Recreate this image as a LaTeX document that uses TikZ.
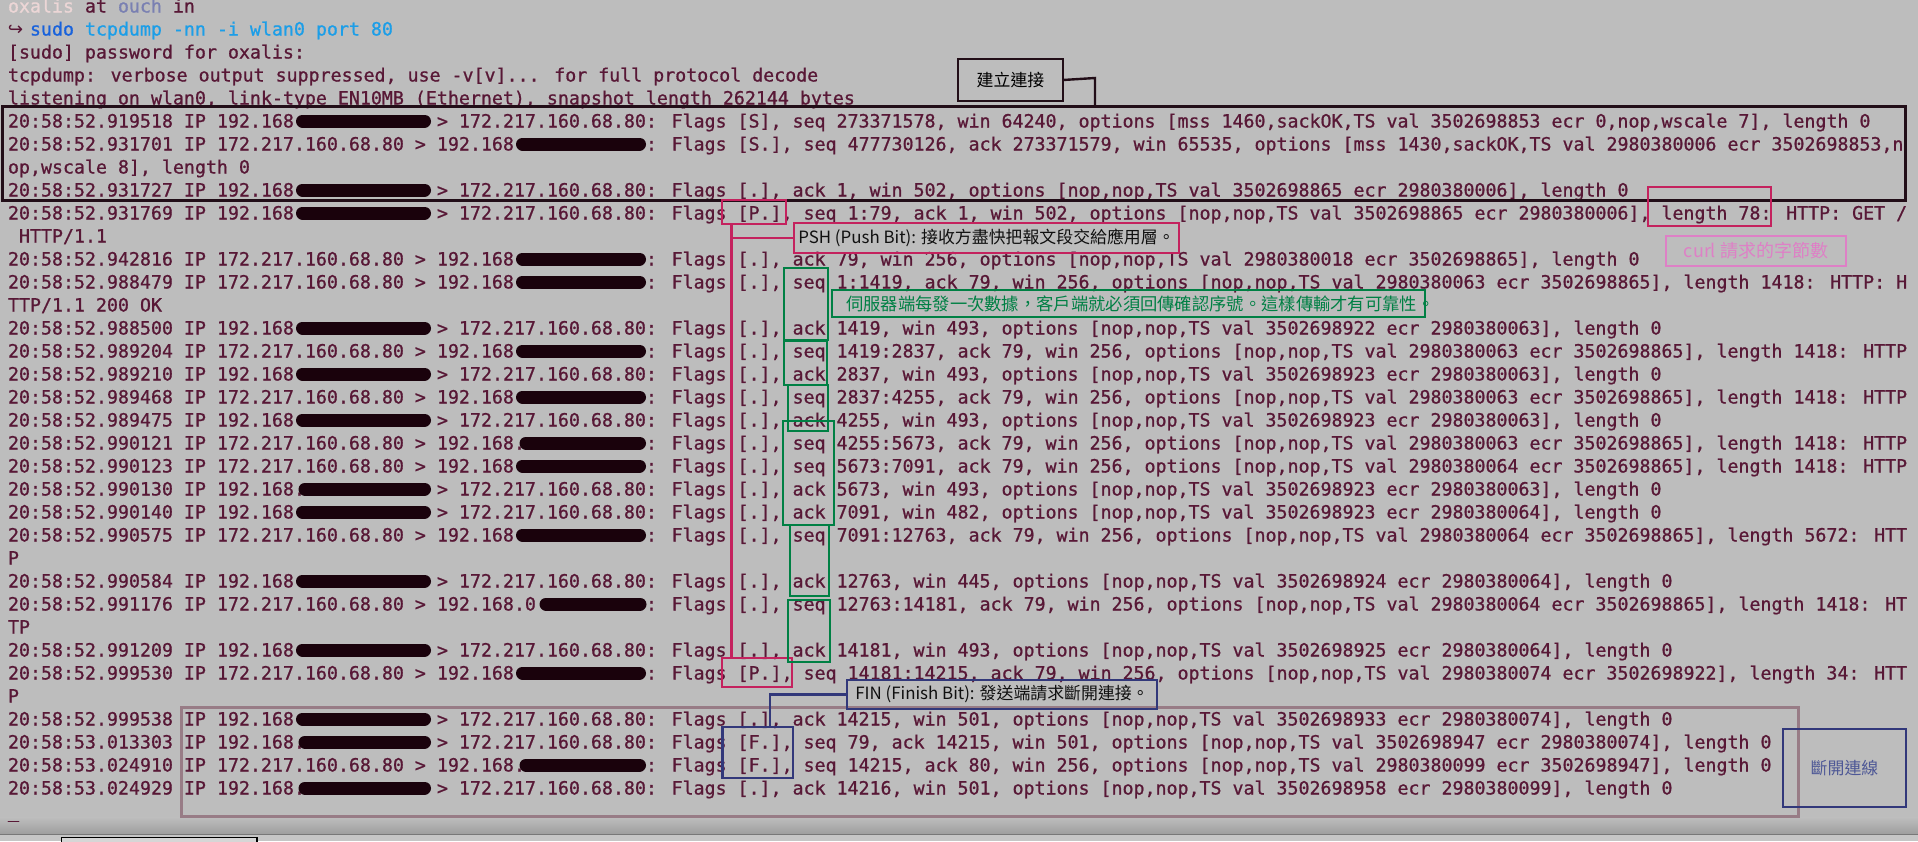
\documentclass[tikz,border=0pt]{standalone}
\usepackage{fontspec}
\newfontfamily\monof{DejaVu Sans Mono}[FakeBold=0.9]
\newfontfamily\cjkf{Noto Sans CJK TC}
\newfontfamily\symf{DejaVu Sans}
\usetikzlibrary{calc}
\definecolor{bgc}{RGB}{189,189,189}
\definecolor{term}{RGB}{88,24,54}
\definecolor{oxp}{RGB}{236,214,214}
\definecolor{ouchc}{RGB}{122,128,178}
\definecolor{sudoc}{RGB}{24,98,220}
\definecolor{cmdc}{RGB}{28,158,232}
\definecolor{blobc}{RGB}{26,2,12}
\definecolor{boxk}{RGB}{34,14,24}
\definecolor{crim}{RGB}{196,34,94}
\definecolor{pinkc}{RGB}{222,128,198}
\definecolor{grn}{RGB}{0,128,68}
\definecolor{navy}{RGB}{50,56,122}
\definecolor{navyt}{RGB}{78,88,150}
\definecolor{mauve}{RGB}{152,124,134}
\definecolor{bandc}{RGB}{158,158,158}
\definecolor{taskc}{RGB}{198,198,198}
\newcommand\termfont{\monof\fontsize{18.27pt}{23pt}\selectfont}
\newcommand\notefont{\cjkf\fontsize{16.9pt}{20pt}\selectfont}
\newcommand\rd[1]{\hspace*{\dimexpr #1pt*11\relax}}
\newcommand\trow[3]{\node[trow] (r#1) at ({8+11*#2},{12.5+23*#1}) {#3};}
\newcommand\cblob[3]{\draw[blob] (#2,{6+23*#1}) -- (#3,{6+23*#1});}
\tikzset{
  trow/.style={anchor=base west, inner sep=0pt, outer sep=0pt, text=term, font=\termfont},
  blob/.style={draw=blobc, line width=13pt, line cap=round},
  bx/.style={draw, rectangle, inner sep=0pt, outer sep=0pt},
  kbox/.style={bx, draw=boxk, line width=2.6pt},
  cbox/.style={bx, draw=crim, line width=2.4pt},
  gbox/.style={bx, draw=grn, line width=2.4pt},
  nbox/.style={bx, draw=navy, line width=2.4pt},
  note/.style={font=\notefont, inner sep=0pt, text={rgb,255:red,16;green,16;blue,16}},
}
\begin{document}
\begin{tikzpicture}[x=1pt,y=-1pt]
\useasboundingbox (0,0) rectangle (1918,841);
\fill[bgc] (0,0) rectangle (1918,841);
% taskbar
\shade[top color=bgc, bottom color=bandc] (0,817.5) rectangle (1918,834);
\fill[taskc] (0,834) rectangle (1918,841);
\draw[line width=1pt, color={rgb,255:red,120;green,120;blue,120}] (0,834.5) -- (1918,834.5);
\draw[line width=1.4pt, black, fill={rgb,255:red,214;green,214;blue,214}] (61.5,837.5) rectangle (257,843);

% terminal text
\node[trow] (r0) at (8,12.5) {\textcolor{oxp}{oxalis} at \textcolor{ouchc}{ouch} in};
\node[trow, font=\symf\fontsize{18.27pt}{23pt}\selectfont] (r1a) at (8,35.5) {↪};
\node[trow] (r1) at (30,35.5) {\textcolor{sudoc}{sudo} \textcolor{cmdc}{tcpdump -nn -i wlan0 port 80}};
\trow{2}{0}{[sudo] password for oxalis:}
\trow{3}{0}{tcpdump: verbose output suppressed, use -v[v]... for full protocol decode}
\trow{4}{0}{listening on wlan0, link-type EN10MB (Ethernet), snapshot length 262144 bytes}
\trow{5}{0}{20:58:52.919518 IP 192.168\rd{12} > 172.217.160.68.80: Flags [S], seq 273371578, win 64240, options [mss 1460,sackOK,TS val 3502698853 ecr 0,nop,wscale 7], length 0}
\trow{6}{0}{20:58:52.931701 IP 172.217.160.68.80 > 192.168\rd{12}: Flags [S.], seq 477730126, ack 273371579, win 65535, options [mss 1430,sackOK,TS val 2980380006 ecr 3502698853,n}
\trow{7}{0}{op,wscale 8], length 0}
\trow{8}{0}{20:58:52.931727 IP 192.168\rd{12} > 172.217.160.68.80: Flags [.], ack 1, win 502, options [nop,nop,TS val 3502698865 ecr 2980380006], length 0}
\trow{9}{0}{20:58:52.931769 IP 192.168\rd{12} > 172.217.160.68.80: Flags [P.], seq 1:79, ack 1, win 502, options [nop,nop,TS val 3502698865 ecr 2980380006], length 78: HTTP: GET /}
\trow{10}{1}{HTTP/1.1}
\trow{11}{0}{20:58:52.942816 IP 172.217.160.68.80 > 192.168\rd{12}: Flags [.], ack 79, win 256, options [nop,nop,TS val 2980380018 ecr 3502698865], length 0}
\trow{12}{0}{20:58:52.988479 IP 172.217.160.68.80 > 192.168\rd{12}: Flags [.], seq 1:1419, ack 79, win 256, options [nop,nop,TS val 2980380063 ecr 3502698865], length 1418: HTTP: H}
\trow{13}{0}{TTP/1.1 200 OK}
\trow{14}{0}{20:58:52.988500 IP 192.168\rd{12} > 172.217.160.68.80: Flags [.], ack 1419, win 493, options [nop,nop,TS val 3502698922 ecr 2980380063], length 0}
\trow{15}{0}{20:58:52.989204 IP 172.217.160.68.80 > 192.168\rd{12}: Flags [.], seq 1419:2837, ack 79, win 256, options [nop,nop,TS val 2980380063 ecr 3502698865], length 1418: HTTP}
\trow{16}{0}{20:58:52.989210 IP 192.168\rd{12} > 172.217.160.68.80: Flags [.], ack 2837, win 493, options [nop,nop,TS val 3502698923 ecr 2980380063], length 0}
\trow{17}{0}{20:58:52.989468 IP 172.217.160.68.80 > 192.168\rd{12}: Flags [.], seq 2837:4255, ack 79, win 256, options [nop,nop,TS val 2980380063 ecr 3502698865], length 1418: HTTP}
\trow{18}{0}{20:58:52.989475 IP 192.168\rd{12} > 172.217.160.68.80: Flags [.], ack 4255, win 493, options [nop,nop,TS val 3502698923 ecr 2980380063], length 0}
\trow{19}{0}{20:58:52.990121 IP 172.217.160.68.80 > 192.168.\rd{11}: Flags [.], seq 4255:5673, ack 79, win 256, options [nop,nop,TS val 2980380063 ecr 3502698865], length 1418: HTTP}
\trow{20}{0}{20:58:52.990123 IP 172.217.160.68.80 > 192.168\rd{12}: Flags [.], seq 5673:7091, ack 79, win 256, options [nop,nop,TS val 2980380064 ecr 3502698865], length 1418: HTTP}
\trow{21}{0}{20:58:52.990130 IP 192.168.\rd{11} > 172.217.160.68.80: Flags [.], ack 5673, win 493, options [nop,nop,TS val 3502698923 ecr 2980380063], length 0}
\trow{22}{0}{20:58:52.990140 IP 192.168\rd{12} > 172.217.160.68.80: Flags [.], ack 7091, win 482, options [nop,nop,TS val 3502698923 ecr 2980380064], length 0}
\trow{23}{0}{20:58:52.990575 IP 172.217.160.68.80 > 192.168\rd{12}: Flags [.], seq 7091:12763, ack 79, win 256, options [nop,nop,TS val 2980380064 ecr 3502698865], length 5672: HTT}
\trow{24}{0}{P}
\trow{25}{0}{20:58:52.990584 IP 192.168\rd{12} > 172.217.160.68.80: Flags [.], ack 12763, win 445, options [nop,nop,TS val 3502698924 ecr 2980380064], length 0}
\trow{26}{0}{20:58:52.991176 IP 172.217.160.68.80 > 192.168.0\rd{10}: Flags [.], seq 12763:14181, ack 79, win 256, options [nop,nop,TS val 2980380064 ecr 3502698865], length 1418: HT}
\trow{27}{0}{TP}
\trow{28}{0}{20:58:52.991209 IP 192.168\rd{12} > 172.217.160.68.80: Flags [.], ack 14181, win 493, options [nop,nop,TS val 3502698925 ecr 2980380064], length 0}
\trow{29}{0}{20:58:52.999530 IP 172.217.160.68.80 > 192.168\rd{12}: Flags [P.], seq 14181:14215, ack 79, win 256, options [nop,nop,TS val 2980380074 ecr 3502698922], length 34: HTT}
\trow{30}{0}{P}
\trow{31}{0}{20:58:52.999538 IP 192.168\rd{12} > 172.217.160.68.80: Flags [.], ack 14215, win 501, options [nop,nop,TS val 3502698933 ecr 2980380074], length 0}
\trow{32}{0}{20:58:53.013303 IP 192.168.\rd{11} > 172.217.160.68.80: Flags [F.], seq 79, ack 14215, win 501, options [nop,nop,TS val 3502698947 ecr 2980380074], length 0}
\trow{33}{0}{20:58:53.024910 IP 172.217.160.68.80 > 192.168.\rd{11}: Flags [F.], seq 14215, ack 80, win 256, options [nop,nop,TS val 2980380099 ecr 3502698947], length 0}
\trow{34}{0}{20:58:53.024929 IP 192.168.\rd{11} > 172.217.160.68.80: Flags [.], ack 14216, win 501, options [nop,nop,TS val 3502698958 ecr 2980380099], length 0}
\trow{35}{0}{\_}

% redaction marks
\foreach \r in {5,8,9,14,16,18,22,25,28,31} {\cblob{\r}{302.5}{424.5}}
\foreach \r in {21,32,34} {\cblob{\r}{305}{424.5}}
\foreach \r in {6,11,12,15,17,20,23,29} {\cblob{\r}{522.5}{639.5}}
\foreach \r in {19,33} {\cblob{\r}{526}{639.5}}
\cblob{26}{546}{640}

% handshake box
\node[kbox, line width=3pt, minimum width=1903pt, minimum height=93.5pt] (est) at (953.5,153.25) {};
\node[kbox, minimum width=105pt, minimum height=42pt, font=\notefont] (jl) at (1010.5,80) {建立連接};
\coordinate (jlk) at (1095,78);
\draw[draw=boxk, line width=2.4pt] (jl.east) -- (jlk) -- (jlk |- est.north);

% teardown box
\node[bx, draw=mauve, line width=3pt, minimum width=1617pt, minimum height=109pt] (dk) at (989.5,761.5) {};
\node[nbox, minimum width=123pt, minimum height=78pt, font=\notefont, text=navyt] (dkl) at (1844.5,768) {斷開連線};

% length 78 and curl note
\node[cbox, minimum width=123pt, minimum height=39pt] (len) at (1709.5,206.5) {};
\node[bx, draw=pinkc, line width=2pt, minimum width=180pt, minimum height=30pt, font=\cjkf\fontsize{18pt}{20pt}\selectfont, text=pinkc] (curl) at (1756,251) {curl 請求的字節數};

% PSH
\node[cbox, minimum width=64pt, minimum height=24pt] (ptop) at (754,212) {};
\node[cbox, minimum width=70pt, minimum height=29pt] (pbot) at (757,672.5) {};
\node[cbox, minimum width=385pt, minimum height=30pt, note] (psh) at (986.5,238) {PSH (Push Bit): 接收方盡快把報文段交給應用層。};
\coordinate (vtop) at ([xshift=9.5pt]ptop.south west);
\coordinate (vbot) at ([xshift=9.5pt]pbot.north west);
\draw[draw=crim, line width=2.4pt] (vtop) -- (vbot);
\draw[draw=crim, line width=2.4pt] (psh.west) -- (vtop |- psh.west);

% seq / ack boxes
\node[gbox, minimum width=44pt, minimum height=72pt] (ga) at (806,304) {};
\node[gbox, minimum width=43pt, minimum height=44pt] (gb) at (805.5,363) {};
\node[gbox, minimum width=40pt, minimum height=46pt] (gc) at (808,408) {};
\node[gbox, minimum width=51pt, minimum height=104pt] (gd) at (808.5,473) {};
\node[gbox, minimum width=39pt, minimum height=71pt] (ge) at (809.5,560.5) {};
\node[gbox, minimum width=42pt, minimum height=62pt] (gf) at (809,631) {};
\node[gbox, minimum width=593pt, minimum height=27pt] (glab) at (1128.5,303.5) {};
\node[note, text=grn, anchor=west, font=\cjkf\fontsize{17.3pt}{20pt}\selectfont] (gtxt) at (846,304) {伺服器端每發一次數據，客戶端就必須回傳確認序號。這樣傳輸才有可靠性。};

% FIN
\node[nbox, minimum width=70.5pt, minimum height=51pt] (fbox) at (757.75,752.5) {};
\node[nbox, minimum width=310pt, minimum height=29pt, note] (fin) at (1002,694.5) {FIN (Finish Bit): 發送端請求斷開連接。};
\coordinate (fk) at ([xshift=47.5pt]fbox.north west);
\draw[draw=navy, line width=2.4pt] (fin.west) -- (fin.west -| fk) -- (fk);
\end{tikzpicture}
\end{document}
